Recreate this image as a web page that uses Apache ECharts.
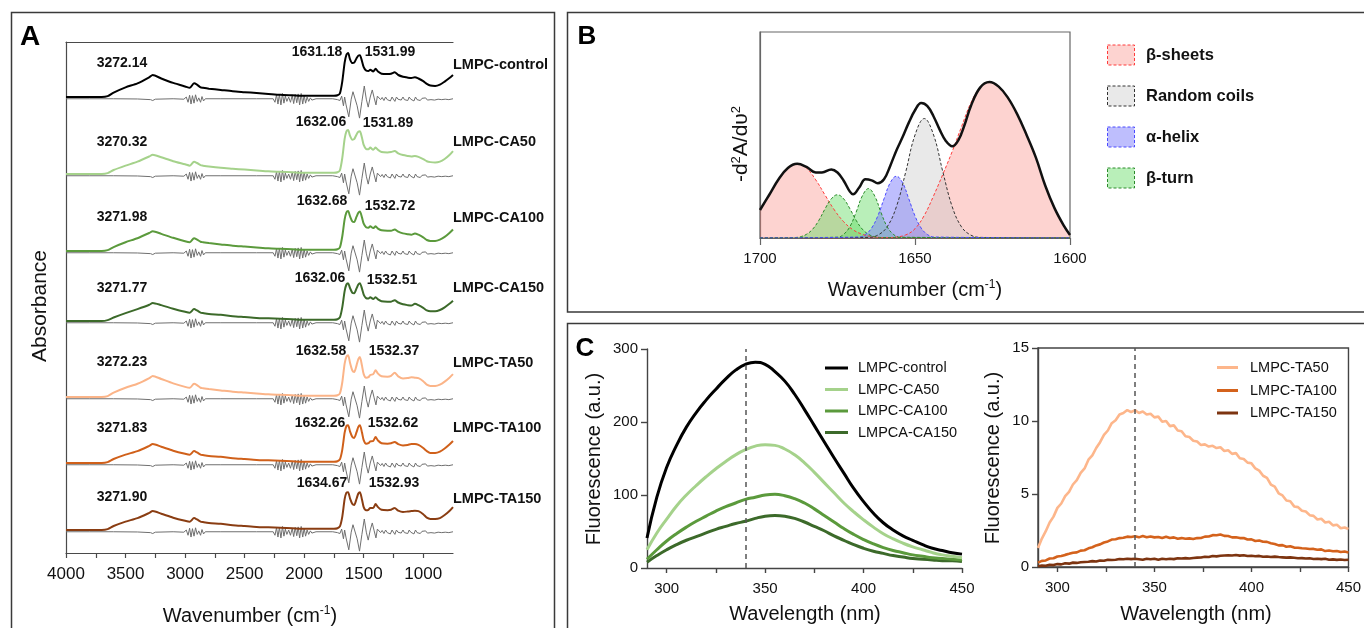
<!DOCTYPE html>
<html><head><meta charset="utf-8">
<script src="https://cdn.jsdelivr.net/npm/echarts@6/dist/echarts.min.js"></script>
<style>html,body{margin:0;padding:0;background:#fff}#c{width:1364px;height:628px}</style>
</head><body><div id="c"></div>
<script>
// ================= DATA =================
// Panel A : FTIR spectra (absorbance, arbitrary units) and second derivative
const sampleNames = ['LMPC-control','LMPC-CA50','LMPC-CA100','LMPC-CA150','LMPC-TA50','LMPC-TA100','LMPC-TA150'];
const ohPeakLabels = ['3272.14','3270.32','3271.98','3271.77','3272.23','3271.83','3271.90'];
const amideILabels = ['1631.18','1632.06','1632.68','1632.06','1632.58','1632.26','1634.67'];
const amideIILabels = ['1531.99','1531.89','1532.72','1532.51','1532.37','1532.62','1532.93'];
const ftirTickLabels = [1000,1500,2000,2500,3000,3500,4000];
const ftirTicks = [1000,1250,1500,1750,2000,2250,2500,2750,3000,3250,3500,3750,4000];

const ftirWn = [4000,3700,3650,3600,3500,3400,3300,3272,3200,3100,3000,2960,2925,2900,2870,2850,2800,2700,2600,2500,2400,2300,2200,2100,2000,1900,1800,1750,1720,1700,1680,1660,1645,1631,1615,1595,1580,1560,1545,1532,1515,1500,1480,1460,1445,1420,1400,1380,1350,1300,1270,1240,1210,1170,1130,1100,1070,1040,1000,970,940,900,860,820,780,750];
const absControl = [0,0,0.02,0.1,0.22,0.31,0.45,0.5,0.42,0.32,0.24,0.21,0.31,0.28,0.22,0.21,0.19,0.16,0.13,0.11,0.09,0.07,0.05,0.04,0.03,0.03,0.03,0.03,0.04,0.08,0.35,0.78,0.96,1.0,0.86,0.77,0.78,0.88,0.94,0.95,0.82,0.68,0.6,0.59,0.62,0.58,0.64,0.58,0.53,0.52,0.53,0.56,0.5,0.46,0.44,0.43,0.45,0.42,0.36,0.3,0.26,0.25,0.28,0.35,0.43,0.5];
const absCA50 = [0,0,0.02,0.09,0.19,0.28,0.4,0.44,0.38,0.29,0.22,0.19,0.28,0.25,0.2,0.19,0.17,0.14,0.12,0.1,0.08,0.06,0.05,0.04,0.03,0.03,0.03,0.03,0.04,0.08,0.36,0.8,0.97,1.0,0.87,0.78,0.79,0.9,0.96,0.97,0.83,0.66,0.57,0.56,0.6,0.55,0.6,0.55,0.5,0.49,0.5,0.52,0.47,0.43,0.41,0.4,0.41,0.39,0.34,0.29,0.27,0.26,0.28,0.34,0.43,0.52];
const absCA100 = [0,0,0.02,0.09,0.2,0.29,0.41,0.45,0.39,0.3,0.22,0.2,0.29,0.26,0.21,0.2,0.18,0.15,0.12,0.1,0.08,0.06,0.05,0.04,0.03,0.03,0.03,0.03,0.04,0.08,0.33,0.72,0.88,0.91,0.79,0.67,0.66,0.78,0.87,0.9,0.77,0.62,0.54,0.53,0.56,0.52,0.56,0.51,0.47,0.46,0.46,0.49,0.44,0.4,0.38,0.37,0.4,0.37,0.31,0.25,0.23,0.23,0.26,0.32,0.41,0.49];
const absCA150 = [0,0,0.02,0.08,0.18,0.27,0.37,0.41,0.36,0.28,0.21,0.19,0.27,0.24,0.19,0.18,0.16,0.14,0.11,0.09,0.07,0.06,0.05,0.04,0.03,0.03,0.03,0.03,0.04,0.08,0.31,0.68,0.83,0.86,0.75,0.64,0.63,0.74,0.83,0.86,0.74,0.6,0.52,0.51,0.54,0.5,0.54,0.49,0.45,0.44,0.44,0.47,0.42,0.38,0.36,0.35,0.39,0.36,0.3,0.24,0.22,0.22,0.25,0.31,0.39,0.46];
const absTA50 = [0,0,0.02,0.1,0.21,0.3,0.43,0.48,0.41,0.31,0.23,0.21,0.3,0.27,0.21,0.2,0.18,0.15,0.12,0.1,0.08,0.06,0.05,0.04,0.03,0.03,0.03,0.03,0.04,0.08,0.33,0.76,0.92,0.95,0.78,0.6,0.57,0.72,0.86,0.91,0.72,0.52,0.44,0.45,0.5,0.52,0.61,0.53,0.47,0.46,0.48,0.55,0.47,0.42,0.43,0.45,0.44,0.43,0.36,0.28,0.25,0.25,0.28,0.35,0.44,0.52];
const absTA100 = [0,0,0.02,0.09,0.19,0.27,0.39,0.43,0.37,0.28,0.21,0.19,0.27,0.24,0.19,0.18,0.16,0.14,0.11,0.09,0.07,0.06,0.05,0.04,0.03,0.03,0.03,0.03,0.04,0.08,0.3,0.69,0.84,0.86,0.72,0.59,0.57,0.7,0.82,0.86,0.7,0.52,0.44,0.45,0.49,0.5,0.59,0.51,0.45,0.44,0.45,0.48,0.43,0.4,0.41,0.43,0.43,0.41,0.34,0.27,0.23,0.23,0.26,0.33,0.42,0.5];
const absTA150 = [0,0,0.02,0.09,0.19,0.27,0.39,0.43,0.37,0.28,0.21,0.19,0.27,0.24,0.19,0.18,0.16,0.14,0.11,0.09,0.07,0.06,0.05,0.04,0.03,0.03,0.03,0.03,0.04,0.08,0.3,0.7,0.85,0.86,0.72,0.59,0.57,0.71,0.83,0.86,0.7,0.52,0.45,0.46,0.5,0.5,0.59,0.52,0.46,0.45,0.46,0.5,0.44,0.41,0.42,0.43,0.44,0.43,0.36,0.28,0.25,0.25,0.27,0.34,0.43,0.52];
const secondDerivative = [[4000,-0.04],[3800,-0.04],[3600,-0.04],[3400,-0.045],[3290,-0.06],[3272,-0.08],[3250,-0.05],[3100,-0.04],[3010,-0.05],[2990,0.0],[2975,-0.12],[2962,0.04],[2950,-0.16],[2938,0.03],[2925,-0.14],[2912,0.05],[2898,-0.1],[2885,-0.02],[2870,-0.12],[2858,0.01],[2845,-0.09],[2830,-0.04],[2700,-0.04],[2400,-0.04],[2260,-0.04],[2245,-0.12],[2232,0.05],[2220,-0.16],[2208,0.06],[2195,-0.18],[2182,0.08],[2170,-0.14],[2158,0.02],[2145,-0.1],[2130,0.0],[2115,-0.12],[2100,0.04],[2088,-0.15],[2075,0.06],[2062,-0.13],[2050,0.07],[2038,-0.18],[2025,0.08],[2012,-0.16],[2000,0.04],[1988,-0.14],[1975,0.0],[1962,-0.1],[1948,-0.02],[1935,-0.07],[1900,-0.04],[1760,-0.04],[1720,-0.06],[1700,-0.08],[1685,0.02],[1670,-0.2],[1660,0.0],[1648,-0.18],[1625,-0.45],[1605,-0.05],[1590,0.12],[1575,0.16],[1555,-0.2],[1535,-0.48],[1515,-0.1],[1495,0.25],[1478,-0.05],[1462,-0.23],[1445,0.0],[1428,0.16],[1412,-0.02],[1397,-0.18],[1385,0.02],[1372,0.06],[1358,-0.06],[1345,-0.01],[1330,-0.08],[1316,0.0],[1302,-0.06],[1290,-0.02],[1276,-0.09],[1262,0.0],[1250,-0.04],[1238,-0.1],[1225,0.0],[1212,-0.05],[1198,-0.02],[1185,-0.07],[1170,0.0],[1158,-0.06],[1145,-0.02],[1130,-0.08],[1118,0.0],[1105,-0.05],[1092,-0.01],[1078,-0.09],[1065,0.0],[1052,-0.06],[1038,-0.02],[1025,-0.08],[1010,-0.03],[995,-0.06],[980,-0.02],[965,-0.07],[950,-0.03],[935,-0.06],[920,-0.02],[905,-0.07],[890,-0.03],[875,-0.05],[860,-0.02],[845,-0.06],[830,-0.03],[815,-0.05],[800,-0.02],[785,-0.06],[770,-0.03],[750,-0.04]];

// Panel B : amide I deconvolution (-d2A/dv2, relative)
const bandSheet1 = [[1700,0.136],[1697,0.208],[1694,0.282],[1691,0.339],[1688,0.36],[1685,0.339],[1682,0.282],[1679,0.208],[1676,0.136],[1673,0.079],[1670,0.04],[1667,0.018],[1664,0.007],[1660,0.002],[1655,0],[1600,0]];
const bandSheet2 = [[1700,0],[1660,0.001],[1657,0.003],[1653,0.015],[1650,0.045],[1647,0.11],[1644,0.205],[1641,0.31],[1638,0.42],[1635,0.54],[1632,0.655],[1629,0.73],[1626,0.757],[1623,0.735],[1620,0.68],[1617,0.6],[1614,0.5],[1611,0.39],[1608,0.255],[1605,0.145],[1602,0.06],[1600,0.015]];
const bandCoil = [[1700,0],[1665,0.003],[1662,0.014],[1659,0.054],[1656,0.152],[1653,0.32],[1650,0.5],[1647,0.58],[1644,0.5],[1641,0.32],[1638,0.152],[1635,0.054],[1632,0.014],[1629,0.003],[1600,0]];
const bandHelix = [[1700,0],[1668,0.005],[1666,0.017],[1664,0.048],[1662,0.107],[1660,0.19],[1658,0.268],[1656,0.3],[1654,0.268],[1652,0.19],[1650,0.107],[1648,0.048],[1646,0.017],[1644,0.005],[1600,0]];
const bandTurn1 = [[1700,0],[1689,0.002],[1687,0.006],[1685,0.018],[1683,0.043],[1681,0.086],[1679,0.142],[1677,0.19],[1675,0.21],[1673,0.19],[1671,0.142],[1669,0.086],[1667,0.043],[1665,0.018],[1663,0.006],[1661,0.002],[1600,0]];
const bandTurn2 = [[1700,0],[1675,0.004],[1673,0.018],[1671,0.055],[1669,0.125],[1667,0.204],[1665,0.24],[1663,0.204],[1661,0.125],[1659,0.055],[1657,0.018],[1655,0.004],[1600,0]];
const fitTotal = [[1700,0.136],[1697,0.21],[1694,0.285],[1691,0.34],[1688,0.36],[1685,0.345],[1682,0.318],[1680,0.318],[1677,0.333],[1675,0.318],[1673,0.278],[1671,0.225],[1670,0.212],[1668,0.245],[1666,0.285],[1664,0.28],[1662,0.266],[1660,0.285],[1658,0.35],[1656,0.425],[1654,0.49],[1652,0.56],[1650,0.62],[1648,0.655],[1646,0.64],[1644,0.59],[1642,0.525],[1640,0.47],[1638,0.445],[1636,0.475],[1634,0.55],[1632,0.64],[1629,0.73],[1626,0.757],[1623,0.735],[1620,0.68],[1617,0.6],[1614,0.5],[1611,0.39],[1608,0.255],[1605,0.145],[1602,0.06],[1600,0.015]];
const structureNames = ['\u03b2-sheets','Random coils','\u03b1-helix','\u03b2-turn'];

// Panel C : intrinsic fluorescence
const caWl = [290,295,300,305,310,315,320,325,330,335,340,345,350,355,360,365,370,375,380,385,390,395,400,405,410,415,420,425,430,435,440,445,450];
const fluoControl = [41,97,138,168,193,213,230,245,259,271,279,282,279,269,256,238,217,195,173,151,130,109,91,75,62,52,44,38,32,27,24,21,19];
const fluoCA50 = [25,48,67,85,100,113,125,136,146,155,162,167,169,168,163,155,144,131,117,103,89,77,66,56,47,40,34,29,25,21,18,16,14];
const fluoCA100 = [12,25,37,47,56,64,71,78,84,89,94,97,100,101,99,95,89,81,72,63,54,46,39,33,28,24,21,18,16,14,13,12,11];
const fluoCA150 = [8,17,25,32,38,43,48,53,57,61,64,68,71,72,71,68,63,57,51,44,38,32,27,23,20,17,15,13,12,11,10,10,9];
const caNames = ['LMPC-control','LMPC-CA50','LMPC-CA100','LMPCA-CA150'];

const taWl = [290,292,294,296,298,300,302,304,306,308,310,312,314,316,318,320,322,324,326,328,330,332,334,336,338,340,342,344,346,348,350,352,354,356,358,360,362,364,366,368,370,372,374,376,378,380,382,384,386,388,390,392,394,396,398,400,402,404,406,408,410,412,414,416,418,420,422,424,426,428,430,432,434,436,438,440,442,444,446,448,450];
const fluoTA50 = [1.3,1.95,2.45,3.05,3.45,4.05,4.35,4.85,5.15,5.65,5.95,6.45,6.75,7.35,7.65,8.15,8.55,9.05,9.35,9.85,10.05,10.45,10.55,10.75,10.6,10.75,10.55,10.65,10.45,10.5,10.25,10.3,9.95,10.0,9.65,9.7,9.35,9.3,8.95,8.9,8.65,8.6,8.35,8.4,8.25,8.3,8.15,8.2,7.95,8.0,7.75,7.8,7.45,7.4,7.15,7.1,6.75,6.6,6.25,6.1,5.65,5.5,5.05,4.9,4.55,4.5,4.15,4.1,3.85,3.8,3.55,3.5,3.25,3.3,3.05,3.1,2.85,2.9,2.65,2.7,2.6];
const fluoTA100 = [0.3,0.42,0.45,0.58,0.6,0.72,0.75,0.83,0.9,0.98,1.0,1.12,1.15,1.28,1.35,1.48,1.55,1.68,1.75,1.88,1.9,1.98,2.0,2.08,2.05,2.1,2.03,2.12,2.04,2.09,2.03,2.06,1.99,2.07,1.98,2.03,1.94,1.98,1.93,1.96,1.92,1.98,1.99,2.08,2.09,2.18,2.17,2.23,2.13,2.12,2.03,2.04,1.98,1.99,1.88,1.89,1.78,1.82,1.73,1.72,1.63,1.58,1.48,1.5,1.39,1.42,1.33,1.32,1.28,1.27,1.23,1.24,1.18,1.21,1.09,1.13,1.08,1.1,1.03,1.06,1.0];
const fluoTA150 = [0.05,0.1,0.08,0.15,0.13,0.2,0.18,0.26,0.23,0.3,0.28,0.32,0.34,0.36,0.4,0.38,0.45,0.43,0.5,0.48,0.5,0.55,0.53,0.57,0.54,0.56,0.53,0.5,0.56,0.53,0.56,0.5,0.56,0.53,0.57,0.54,0.6,0.58,0.61,0.58,0.62,0.64,0.65,0.7,0.68,0.75,0.73,0.77,0.79,0.81,0.79,0.82,0.78,0.81,0.75,0.77,0.74,0.76,0.7,0.72,0.69,0.71,0.68,0.66,0.64,0.66,0.63,0.6,0.61,0.58,0.6,0.55,0.57,0.54,0.56,0.5,0.52,0.49,0.51,0.48,0.5];
const taNames = ['LMPC-TA50','LMPC-TA100','LMPC-TA150'];

// ================= STYLE / LAYOUT =================
const FONT = '"Liberation Sans", Arial, Helvetica, sans-serif';
const TXT = '#111';
const plain = v => String(v);
const ftirAbs = [absControl, absCA50, absCA100, absCA150, absTA50, absTA100, absTA150];
const ftirColors = ['#000000','#a5d28b','#5b9a3c','#3c6a2a','#fbb488','#d0601a','#8a3d12'];
const caColors = ['#000000','#a5d28b','#5b9a3c','#3c6a2a'];
const taColors = ['#fdb68b','#d4621c','#7d3410'];

const A_LEFT = 66, A_RIGHT = 453, A_TOP = 42, A_BOTTOM = 553, A_UNIT = 44;
const A_BASE = [97,174,251,321,397,463,530];
const Y_MIN = -0.6, Y_MAX = 1.2;
const ohY = [63,142,217,288,362,428,497], amIY = [52,122,201,278,351,423,483], amIIY = [52,123,206,280,351,423,483], nameY = [65,142,218,288,363,428,499];
const amIX = [317,321,322,320,321,320,322], amIIX = [390,388,390,392,394,393,394];

const grid = [], xAxis = [], yAxis = [], series = [];

// ---- Panel A spectra grids ----
A_BASE.forEach((b, i) => {
  grid.push({left:A_LEFT, top:b - Y_MAX*A_UNIT, width:A_RIGHT-A_LEFT, height:(Y_MAX-Y_MIN)*A_UNIT, containLabel:false});
  xAxis.push({gridIndex:i, type:'value', min:750, max:4000, inverse:true, show:false});
  yAxis.push({gridIndex:i, type:'value', min:Y_MIN, max:Y_MAX, show:false});
  series.push({type:'line', xAxisIndex:i, yAxisIndex:i, data:secondDerivative, symbol:'none', silent:true, clip:false,
    lineStyle:{color:'#6f6f6f', width:1}, z:2});
  series.push({type:'line', name:sampleNames[i], xAxisIndex:i, yAxisIndex:i, data:ftirWn.map((w,k)=>[w, ftirAbs[i][k]]),
    symbol:'none', smooth:0.25, silent:true, clip:false, lineStyle:{color:ftirColors[i], width:2}, z:3});
});

// ---- Panel A frame ----
const gA = grid.length;
grid.push({left:A_LEFT, top:A_TOP, width:A_RIGHT-A_LEFT, height:A_BOTTOM-A_TOP, containLabel:false});
const lineA = {show:true, lineStyle:{color:'#4a4a4a', width:1.2}};
xAxis.push({gridIndex:gA, type:'value', min:750, max:4000, inverse:true, position:'bottom', axisLine:lineA,
  axisTick:{show:true, customValues:ftirTicks, length:5, lineStyle:{color:'#4a4a4a', width:1.2}},
  axisLabel:{customValues:ftirTickLabels, formatter:plain, fontSize:17, color:TXT, fontFamily:FONT, margin:13}, splitLine:{show:false}});
xAxis.push({gridIndex:gA, type:'value', min:750, max:4000, inverse:true, position:'top', axisLine:lineA,
  axisTick:{show:false}, axisLabel:{show:false}, splitLine:{show:false}});
yAxis.push({gridIndex:gA, type:'value', min:0, max:1, axisLine:lineA, axisTick:{show:false}, axisLabel:{show:false}, splitLine:{show:false}});

// ---- Panel B ----
const gB = grid.length;
grid.push({left:760, top:32, width:310, height:206, show:true, borderColor:'#666', borderWidth:1.2, containLabel:false});
const xiB = xAxis.length, yiB = yAxis.length;
xAxis.push({gridIndex:gB, type:'value', min:1600, max:1700, interval:50, inverse:true,
  axisLine:{show:true, lineStyle:{color:'#666', width:1.2}}, axisTick:{show:true, length:7, lineStyle:{color:'#666', width:1.2}},
  axisLabel:{formatter:plain, fontSize:15, color:TXT, fontFamily:FONT, margin:13}, splitLine:{show:false}});
yAxis.push({gridIndex:gB, type:'value', min:0, max:1, axisLine:{show:true, lineStyle:{color:'#666', width:1.2}},
  axisTick:{show:false}, axisLabel:{show:false}, splitLine:{show:false}});
const bandStyle = {
  sheet:{line:'#ff3b3b', fill:'rgba(250,130,120,0.35)'},
  coil:{line:'#333333', fill:'rgba(200,200,200,0.4)'},
  turn:{line:'#2a8a2a', fill:'rgba(100,220,100,0.45)'},
  helix:{line:'#4a4aff', fill:'rgba(110,110,250,0.45)'}
};
[[bandSheet1,'sheet'],[bandSheet2,'sheet'],[bandCoil,'coil'],[bandTurn1,'turn'],[bandTurn2,'turn'],[bandHelix,'helix']].forEach(([d,k]) => {
  series.push({type:'line', xAxisIndex:xiB, yAxisIndex:yiB, data:d, symbol:'none', smooth:0.4, silent:true,
    lineStyle:{color:bandStyle[k].line, width:1, type:[3,2]}, areaStyle:{color:bandStyle[k].fill, opacity:1}, z:2});
});
series.push({type:'line', xAxisIndex:xiB, yAxisIndex:yiB, data:fitTotal, symbol:'none', smooth:0.4, silent:true,
  lineStyle:{color:'#111', width:2.5}, z:4});

// ---- Panel C left ----
const axC = {show:true, lineStyle:{color:'#444', width:1.4}};
const gC1 = grid.length;
grid.push({left:647, top:349, width:315, height:219, containLabel:false});
const xiC1 = xAxis.length, yiC1 = yAxis.length;
xAxis.push({gridIndex:gC1, type:'value', min:290, max:450, axisLine:axC,
  axisTick:{show:true, customValues:[300,325,350,375,400,425,450], length:5, lineStyle:{color:'#444', width:1.4}},
  axisLabel:{customValues:[300,350,400,450], formatter:plain, fontSize:15, color:TXT, fontFamily:FONT, margin:13}, splitLine:{show:false}});
yAxis.push({gridIndex:gC1, type:'value', min:0, max:300, interval:100, axisLine:axC,
  axisTick:{show:true, length:6, lineStyle:{color:'#444', width:1.4}},
  axisLabel:{formatter:plain, fontSize:15, color:TXT, fontFamily:FONT, margin:9}, splitLine:{show:false}});
[fluoControl, fluoCA50, fluoCA100, fluoCA150].forEach((d,i) => {
  const s = {type:'line', name:caNames[i], xAxisIndex:xiC1, yAxisIndex:yiC1, data:caWl.map((w,k)=>[w,d[k]]), symbol:'none',
    smooth:0.5, silent:true, lineStyle:{color:caColors[i], width:3}, z:3 + (3-i)*0.1};
  if (i === 0) s.markLine = {symbol:'none', silent:true, label:{show:false}, lineStyle:{type:[5,4], color:'#555', width:1.5}, data:[{xAxis:340}]};
  series.push(s);
});

// ---- Panel C right ----
const gC2 = grid.length;
grid.push({left:1038, top:348, width:315, height:219, show:true, borderColor:'#444', borderWidth:1.4, containLabel:false});
const xiC2 = xAxis.length, yiC2 = yAxis.length;
xAxis.push({gridIndex:gC2, type:'value', min:290, max:450, axisLine:axC,
  axisTick:{show:true, customValues:[300,325,350,375,400,425,450], length:5, lineStyle:{color:'#444', width:1.4}},
  axisLabel:{customValues:[300,350,400,450], formatter:plain, fontSize:15, color:TXT, fontFamily:FONT, margin:13}, splitLine:{show:false}});
yAxis.push({gridIndex:gC2, type:'value', min:0, max:15, interval:5, axisLine:axC,
  axisTick:{show:true, length:6, lineStyle:{color:'#444', width:1.4}},
  axisLabel:{formatter:plain, fontSize:15, color:TXT, fontFamily:FONT, margin:9}, splitLine:{show:false}});
[fluoTA50, fluoTA100, fluoTA150].forEach((d,i) => {
  const s = {type:'line', name:taNames[i], xAxisIndex:xiC2, yAxisIndex:yiC2, data:taWl.map((w,k)=>[w,d[k]]), symbol:'none',
    silent:true, lineStyle:{color:taColors[i], width:2.6}, z:3};
  if (i === 0) s.markLine = {symbol:'none', silent:true, label:{show:false}, lineStyle:{type:[5,4], color:'#555', width:1.5}, data:[{xAxis:340}]};
  series.push(s);
});

// ================= GRAPHICS (frames, titles, annotations, legends) =================
const G = [];
function txt(t, x, y, o = {}) {
  G.push({type:'text', x, y, rotation:o.rot || 0, z:100, silent:true,
    style:{text:t, fill:o.color || TXT, fontSize:o.size || 14, fontWeight:o.weight || 'normal', fontFamily:FONT,
      align:o.align || 'center', textAlign:o.align || 'center', verticalAlign:'middle', textVerticalAlign:'middle',
      rich:o.rich, lineHeight:o.lh}});
}
function rect(x, y, w, h, stroke, fill, dash, lw) {
  G.push({type:'rect', z:90, silent:true, shape:{x, y, width:w, height:h},
    style:{fill:fill || 'none', stroke, lineWidth:lw || 1.5, lineDash:dash || null}});
}
function hline(x1, x2, y, color, w) {
  G.push({type:'line', z:95, silent:true, shape:{x1, y1:y, x2, y2:y}, style:{stroke:color, lineWidth:w}});
}
// panel frames
rect(11.5, 12.5, 543, 660, '#3a3a3a');
rect(567.5, 12.5, 820, 299.5, '#3a3a3a');
rect(567.5, 323.5, 820, 340, '#3a3a3a');
// panel letters
txt('A', 30, 37, {size:28, weight:'bold', color:'#000'});
txt('B', 587, 37, {size:26, weight:'bold', color:'#000'});
txt('C', 585, 349, {size:26, weight:'bold', color:'#000'});

const supRich = {sup:{fontSize:12, fontFamily:FONT, verticalAlign:'top', lineHeight:12, fill:TXT}};
// Panel A titles
txt('Wavenumber (cm{sup|-1})', 250, 616, {size:20, rich:supRich, lh:22});
txt('Absorbance', 40, 306, {size:21, rot:Math.PI/2});
// Panel A peak annotations
A_BASE.forEach((b,i) => {
  txt(ohPeakLabels[i], 122, ohY[i], {size:14, weight:'bold'});
  txt(amideILabels[i], amIX[i], amIY[i], {size:14, weight:'bold'});
  txt(amideIILabels[i], amIIX[i], amIIY[i], {size:14, weight:'bold'});
  txt(sampleNames[i], 453, nameY[i], {size:14.5, weight:'bold', align:'left'});
});
// Panel B titles and legend
txt('Wavenumber (cm{sup|-1})', 915, 290, {size:20, rich:supRich, lh:22});
txt('-d{sup|2}A/d\u03c5{sup|2}', 741, 144, {size:21, rot:Math.PI/2, rich:{sup:{fontSize:13, fontFamily:FONT, verticalAlign:'top', lineHeight:13, fill:TXT}}, lh:23});
const legB = [['sheet',55],['coil',96],['helix',137],['turn',178]];
legB.forEach(([k,y],i) => {
  rect(1107.5, y-10, 27, 20, bandStyle[k].line, bandStyle[k].fill, [3,2], 1);
  txt(structureNames[i], 1146, y, {size:16.5, weight:'bold', align:'left'});
});
// Panel C titles
txt('Wavelength (nm)', 805, 614, {size:20});
txt('Wavelength (nm)', 1196, 614, {size:20});
txt('Fluorescence (a.u.)', 594, 459, {size:20, rot:Math.PI/2});
txt('Fluorescence (a.u.)', 993, 458, {size:20, rot:Math.PI/2});
// Panel C legends
[368, 389.5, 411, 432.5].forEach((y,i) => { hline(825, 848, y, caColors[i], 3); txt(caNames[i], 858, y, {size:14.5, align:'left'}); });
[367.5, 390.5, 413].forEach((y,i) => { hline(1217, 1238, y, taColors[i], 3); txt(taNames[i], 1250, y, {size:14.5, align:'left'}); });

const chart = echarts.init(document.getElementById('c'), null, {renderer:'canvas', width:1364, height:628});
chart.setOption({
  animation:false,
  backgroundColor:'#fff',
  textStyle:{fontFamily:FONT},
  grid, xAxis, yAxis, series,
  graphic:{elements:G}
});
</script>
</body></html>
